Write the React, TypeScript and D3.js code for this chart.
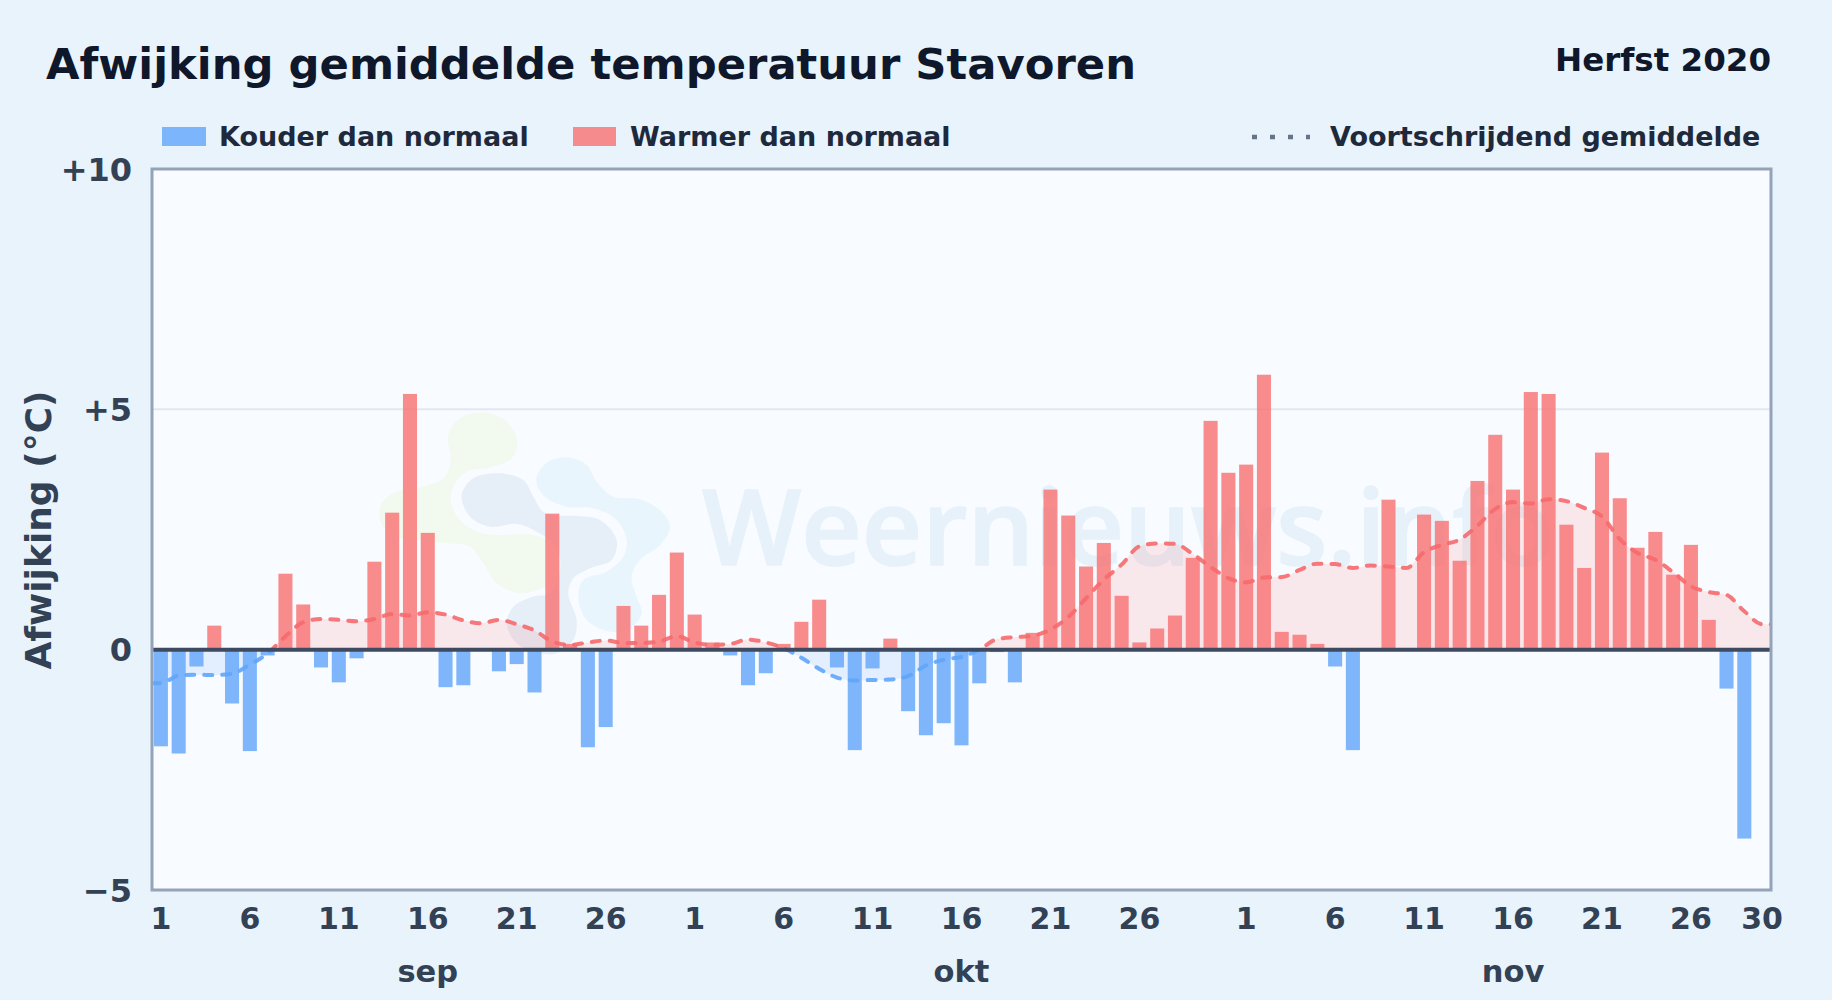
import React, { useRef, useEffect } from "react";
import * as d3 from "d3";

// afwijking per dag (°C), 0 = geen balk
const sepBars = [-2.01, -2.16, -0.35, 0.5, -1.12, -2.11, -0.12, 1.58, 0.94, -0.37, -0.68, -0.18, 1.83, 2.85, 5.32, 2.43, -0.78, -0.74, 0, -0.45, -0.3, -0.89, 2.83, 0.12, -2.03, -1.61, 0.91, 0.5, 1.14, 2.02];
const oktBars = [0.73, 0.15, -0.12, -0.74, -0.49, 0.12, 0.58, 1.04, -0.37, -2.09, -0.39, 0.23, -1.28, -1.78, -1.53, -1.99, -0.7, -0.05, -0.68, 0.35, 3.33, 2.79, 1.73, 2.22, 1.12, 0.15, 0.44, 0.71, 1.91, 4.76, 3.68];
const novBars = [3.85, 5.72, 0.37, 0.31, 0.12, -0.35, -2.09, 0, 3.12, 0, 2.81, 2.68, 1.85, 3.51, 4.47, 3.33, 5.36, 5.32, 2.6, 1.7, 4.1, 3.15, 2.12, 2.45, 1.56, 2.18, 0.62, -0.81, -3.93, 0];

// voortschrijdend gemiddelde
const sepAvg = [-0.7, -0.54, -0.52, -0.53, -0.5, -0.31, -0.08, 0.28, 0.57, 0.64, 0.62, 0.59, 0.64, 0.74, 0.71, 0.78, 0.73, 0.61, 0.55, 0.62, 0.53, 0.4, 0.17, 0.1, 0.15, 0.19, 0.14, 0.14, 0.17, 0.28];
const oktAvg = [0.15, 0.1, 0.12, 0.21, 0.15, 0.03, -0.17, -0.4, -0.58, -0.64, -0.63, -0.62, -0.55, -0.33, -0.21, -0.15, 0, 0.22, 0.26, 0.29, 0.42, 0.68, 1.07, 1.46, 1.77, 2.15, 2.21, 2.2, 1.99, 1.72, 1.49];
const novAvg = [1.4, 1.5, 1.51, 1.66, 1.79, 1.78, 1.7, 1.75, 1.73, 1.7, 2.03, 2.18, 2.29, 2.58, 2.93, 3.07, 3.04, 3.13, 3.09, 2.95, 2.77, 2.3, 2.01, 1.87, 1.61, 1.32, 1.2, 1.14, 0.8, 0.53];

const months = ["sep", "okt", "nov"];
const monthLengths = [30, 31, 30];
const sepTicks = [1, 6, 11, 16, 21, 26];
const oktTicks = [1, 6, 11, 16, 21, 26];
const novTicks = [1, 6, 11, 16, 21, 26, 30];
const monthLabelDay = [16, 16, 16];
const yTicks = [10, 5, 0, -5];

// logo-watermerk, omtrek in schermpixels
const logoGreen: [number, number][] = [[375, 68], [440, 95], [472, 155], [455, 205], [390, 232], [320, 245], [285, 280], [272, 330], [295, 385], [350, 425], [420, 435], [500, 432], [570, 455], [608, 510], [590, 560], [530, 600], [470, 608], [410, 580], [370, 520], [330, 470], [260, 460], [170, 450], [100, 440], [60, 390], [65, 340], [110, 305], [190, 290], [250, 265], [272, 215], [265, 135], [300, 85]];
const logoGrey: [number, number][] = [[305, 315], [340, 265], [420, 250], [490, 270], [520, 320], [555, 370], [650, 378], [720, 390], [770, 450], [755, 510], [690, 535], [640, 565], [625, 610], [650, 690], [640, 750], [590, 790], [540, 790], [470, 760], [440, 700], [460, 650], [520, 620], [570, 610], [600, 540], [590, 470], [530, 425], [470, 402], [390, 410], [330, 380]];
const logoBlue: [number, number][] = [[530, 260], [565, 215], [620, 202], [680, 225], [710, 275], [760, 320], [840, 328], [905, 365], [930, 410], [900, 465], [840, 510], [815, 560], [830, 620], [845, 670], [810, 715], [750, 725], [680, 690], [655, 620], [670, 570], [740, 545], [790, 500], [800, 450], [770, 390], [700, 355], [620, 350], [560, 325], [535, 295]];

const FONT = "'DejaVu Sans', sans-serif";
const RED = "#f87171";
const BLUE = "#60a5fa";

const App: React.FC = () => {
  const svgRef = useRef<SVGSVGElement | null>(null);

  useEffect(() => {
    if (!svgRef.current) return;
    const svg = d3.select(svgRef.current);
    svg.selectAll("*").remove();

    const width = 1832;
    const height = 1000;
    const plot = { left: 152, right: 1771, top: 169, bottom: 890 };

    const bars = [...sepBars, ...oktBars, ...novBars];
    const avg = [...sepAvg, ...oktAvg, ...novAvg];
    const days = d3.range(bars.length);

    // dag-index van een maand + dag
    const dayIndex = (m: number, d: number) => d3.sum(monthLengths.slice(0, m)) + d - 1;

    const x = d3.scaleBand<number>()
      .domain(days)
      .range([plot.left, plot.right])
      .paddingInner(0.21)
      .paddingOuter(0.105);
    const y = d3.scaleLinear().domain([-5, 10]).range([plot.bottom, plot.top]);
    const cx = (i: number) => (x(i) as number) + x.bandwidth() / 2;

    svg.append("rect").attr("width", width).attr("height", height).attr("fill", "#e8f3fc");
    svg.append("rect")
      .attr("x", plot.left).attr("y", plot.top)
      .attr("width", plot.right - plot.left).attr("height", plot.bottom - plot.top)
      .attr("fill", "#f8fbff");

    // watermerk
    const blob = d3.line().curve(d3.curveCatmullRomClosed.alpha(0.5))
      .x((d) => 360 + d[0] / 3)
      .y((d) => 390 + d[1] / 3);
    const logo = svg.append("g");
    logo.append("path").attr("d", blob(logoGreen) as string).attr("fill", "#f2f9ee");
    logo.append("path").attr("d", blob(logoGrey) as string).attr("fill", "#e6eff8");
    logo.append("path").attr("d", blob(logoBlue) as string).attr("fill", "#e9f5fd");
    svg.append("text")
      .attr("x", 702).attr("y", 565)
      .attr("font-family", "'Open Sans', sans-serif")
      .attr("font-weight", 600)
      .attr("font-size", 105)
      .attr("fill", "#e7f1fa")
      .attr("stroke", "#e7f1fa")
      .attr("stroke-width", 1.5)
      .text("Weernieuws.info");

    // gridlijn
    svg.append("line")
      .attr("x1", plot.left).attr("x2", plot.right)
      .attr("y1", y(5)).attr("y2", y(5))
      .attr("stroke", "#e2e8f0").attr("stroke-width", 2);

    // clip boven en onder nul
    const defs = svg.append("defs");
    defs.append("clipPath").attr("id", "above").append("rect")
      .attr("x", plot.left).attr("y", plot.top)
      .attr("width", plot.right - plot.left).attr("height", y(0) - plot.top);
    defs.append("clipPath").attr("id", "below").append("rect")
      .attr("x", plot.left).attr("y", y(0))
      .attr("width", plot.right - plot.left).attr("height", plot.bottom - y(0));

    // lijn loopt door tot de randen van het vlak
    const points: [number, number][] = [
      [plot.left, avg[0]],
      ...days.map((i): [number, number] => [cx(i), avg[i]]),
      [plot.right, avg[avg.length - 1]],
    ];
    const area = d3.area<[number, number]>().curve(d3.curveMonotoneX)
      .x((d) => d[0]).y0(y(0)).y1((d) => y(d[1]));
    const line = d3.line<[number, number]>().curve(d3.curveMonotoneX)
      .x((d) => d[0]).y((d) => y(d[1]));

    [["above", RED], ["below", BLUE]].forEach(([id, color]) => {
      svg.append("path")
        .attr("d", area(points) as string)
        .attr("clip-path", `url(#${id})`)
        .attr("fill", color).attr("fill-opacity", 0.14);
    });

    svg.append("g").selectAll("rect")
      .data(days.filter((i) => bars[i] !== 0))
      .join("rect")
      .attr("x", (i) => x(i) as number)
      .attr("width", x.bandwidth())
      .attr("y", (i) => y(Math.max(0, bars[i])))
      .attr("height", (i) => Math.abs(y(bars[i]) - y(0)))
      .attr("fill", (i) => (bars[i] > 0 ? RED : BLUE))
      .attr("fill-opacity", 0.8);

    [["above", "#f6696d"], ["below", "#60a5fa"]].forEach(([id, color]) => {
      svg.append("g").attr("clip-path", `url(#${id})`).append("path")
        .attr("d", line(points) as string)
        .attr("fill", "none")
        .attr("stroke", color)
        .attr("stroke-opacity", 0.9)
        .attr("stroke-width", 4)
        .attr("stroke-linecap", "round")
        .attr("stroke-dasharray", "8 10");
    });

    // nullijn en kader
    svg.append("line")
      .attr("x1", plot.left).attr("x2", plot.right)
      .attr("y1", y(0)).attr("y2", y(0))
      .attr("stroke", "#3d4a5f").attr("stroke-width", 4);
    svg.append("rect")
      .attr("x", plot.left).attr("y", plot.top)
      .attr("width", plot.right - plot.left).attr("height", plot.bottom - plot.top)
      .attr("fill", "none").attr("stroke", "#94a3b8").attr("stroke-width", 3);

    // assen
    const fmtY = (v: number) => (v > 0 ? `+${v}` : v < 0 ? `\u2212${-v}` : "0");
    const yAxis = svg.append("g")
      .attr("transform", `translate(${plot.left},1)`)
      .call(d3.axisLeft(y).tickValues(yTicks).tickSize(0).tickPadding(20).tickFormat((v) => fmtY(+v)));
    yAxis.select(".domain").remove();
    yAxis.selectAll("text")
      .attr("font-family", FONT).attr("font-weight", 700).attr("font-size", 32).attr("fill", "#334155");

    const tickDays = [sepTicks, oktTicks, novTicks];
    const tickLabel = new Map<number, string>();
    tickDays.forEach((list, m) => list.forEach((d) => tickLabel.set(dayIndex(m, d), String(d))));
    const xAxis = svg.append("g")
      .attr("transform", `translate(0,${plot.bottom})`)
      .call(d3.axisBottom(x).tickValues([...tickLabel.keys()]).tickSize(0).tickPadding(18).tickFormat((i) => tickLabel.get(i) as string));
    xAxis.select(".domain").remove();
    xAxis.selectAll("text")
      .attr("font-family", FONT).attr("font-weight", 700).attr("font-size", 30).attr("fill", "#334155");

    svg.append("g").selectAll("text")
      .data(months)
      .join("text")
      .attr("x", (_, m) => cx(dayIndex(m, monthLabelDay[m])))
      .attr("y", 982)
      .attr("text-anchor", "middle")
      .attr("font-family", FONT).attr("font-weight", 700).attr("font-size", 30.5).attr("fill", "#334155")
      .text((d) => d);

    svg.append("text")
      .attr("transform", `translate(51,530) rotate(-90)`)
      .attr("text-anchor", "middle")
      .attr("font-family", FONT).attr("font-weight", 700).attr("font-size", 36).attr("fill", "#334155")
      .text("Afwijking (°C)");

    // titels
    svg.append("text")
      .attr("x", 46).attr("y", 79)
      .attr("font-family", FONT).attr("font-weight", 700).attr("font-size", 43.3).attr("fill", "#0f172a")
      .text("Afwijking gemiddelde temperatuur Stavoren");
    svg.append("text")
      .attr("x", 1771).attr("y", 71)
      .attr("text-anchor", "end")
      .attr("font-family", FONT).attr("font-weight", 700).attr("font-size", 32.5).attr("fill", "#0f172a")
      .text("Herfst 2020");

    // legenda
    const legend = svg.append("g")
      .attr("font-family", FONT).attr("font-weight", 700).attr("font-size", 27).attr("fill", "#1e293b");
    legend.append("rect").attr("x", 162).attr("y", 127).attr("width", 44).attr("height", 19).attr("fill", BLUE).attr("fill-opacity", 0.8);
    legend.append("text").attr("x", 219).attr("y", 146).text("Kouder dan normaal");
    legend.append("rect").attr("x", 573).attr("y", 127).attr("width", 43).attr("height", 19).attr("fill", RED).attr("fill-opacity", 0.8);
    legend.append("text").attr("x", 630).attr("y", 146).text("Warmer dan normaal");
    legend.append("line")
      .attr("x1", 1252).attr("x2", 1310).attr("y1", 137).attr("y2", 137)
      .attr("stroke", "#64748b").attr("stroke-width", 4.5).attr("stroke-dasharray", "5 13");
    legend.append("text").attr("x", 1330).attr("y", 146).text("Voortschrijdend gemiddelde");
  }, []);

  return <svg ref={svgRef} width={1832} height={1000} style={{ position: "absolute", left: 0, top: 0 }} />;
};

export default App;
